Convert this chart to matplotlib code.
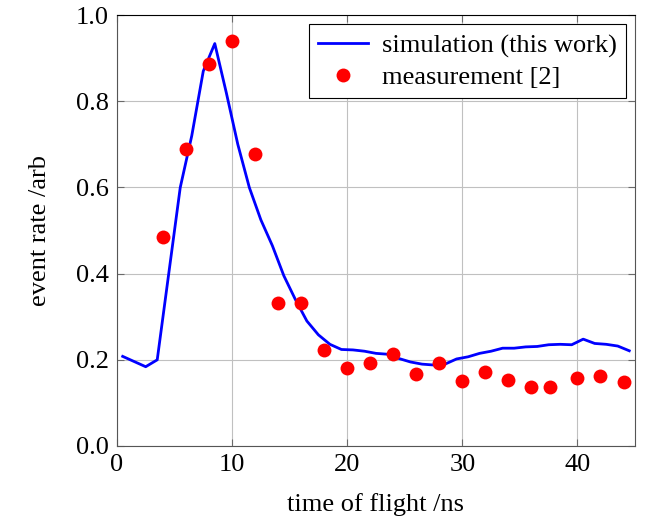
"""
Time-of-flight event rate: simulation vs measurement.
"""

import matplotlib
matplotlib.use("Agg")
import matplotlib.pyplot as plt

# simulated event rate, one value per ns bin
sim_tof = [0.5, 1.5, 2.5, 3.5, 4.5, 5.5, 6.5, 7.5, 8.5, 9.5,
           10.5, 11.5, 12.5, 13.5, 14.5, 15.5, 16.5, 17.5, 18.5, 19.5,
           20.5, 21.5, 22.5, 23.5, 24.5, 25.5, 26.5, 27.5, 28.5, 29.5,
           30.5, 31.5, 32.5, 33.5, 34.5, 35.5, 36.5, 37.5, 38.5, 39.5,
           40.5, 41.5, 42.5, 43.5, 44.5]
sim_rate = [0.208, 0.196, 0.184, 0.200, 0.400, 0.600, 0.720, 0.870, 0.934, 0.820,
            0.700, 0.600, 0.525, 0.465, 0.395, 0.340, 0.290, 0.258, 0.236, 0.224,
            0.223, 0.220, 0.215, 0.213, 0.203, 0.195, 0.190, 0.188, 0.190, 0.202,
            0.207, 0.215, 0.220, 0.227, 0.227, 0.230, 0.231, 0.235, 0.236, 0.235,
            0.248, 0.238, 0.236, 0.232, 0.221]

# measured points from [2]
meas_tof = [4, 6, 8, 10, 12, 14, 16, 18, 20, 22,
            24, 26, 28, 30, 32, 34, 36, 37.6, 40, 42, 44]
meas_rate = [0.485, 0.690, 0.886, 0.940, 0.677, 0.333, 0.333, 0.222, 0.180, 0.193,
             0.213, 0.167, 0.193, 0.150, 0.172, 0.153, 0.138, 0.138, 0.158, 0.163, 0.148]

plt.rcParams['font.family'] = ['Liberation Serif', 'DejaVu Serif']
plt.rcParams['mathtext.fontset'] = 'stix'
plt.rcParams['font.size'] = 19

fig, ax = plt.subplots(figsize=(6.46, 5.22), dpi=100)
fig.subplots_adjust(left=0.181, right=0.983, bottom=0.1456, top=0.971)

ax.plot(sim_tof, sim_rate, color='#0000ff', lw=2.0, label='simulation (this work)', zorder=3)
ax.plot(meas_tof, meas_rate, 'o', color='#ff0000', ms=10, mec='none',
        label='measurement [2]', zorder=4)

ax.set_xlim(0, 45)
ax.set_ylim(0, 1.0)
ax.set_xticks([0, 10, 20, 30, 40])
ax.set_yticks([0.0, 0.2, 0.4, 0.6, 0.8, 1.0])
ax.set_yticklabels(['0.0', '0.2', '0.4', '0.6', '0.8', '1.0'])
ax.grid(True, color='#c0c0c0', lw=0.8)
ax.set_axisbelow(True)
ax.tick_params(direction='in', length=5, width=0.8, color='#6a6a6a',
               top=True, right=True, pad=6)

for side in ['left', 'bottom', 'right']:
    ax.spines[side].set_color('#555555')
ax.spines['top'].set_color('black')

ax.set_xlabel('time of flight /ns', labelpad=12)
ax.set_ylabel('event rate /arb', labelpad=18)

leg = ax.legend(loc='upper right', fancybox=False, framealpha=1,
                edgecolor='black', borderpad=0.35, handlelength=1.9,
                handletextpad=0.5, labelspacing=0.3, borderaxespad=0.35)
leg.get_frame().set_linewidth(0.8)

fig.savefig('out.png', dpi=100)
